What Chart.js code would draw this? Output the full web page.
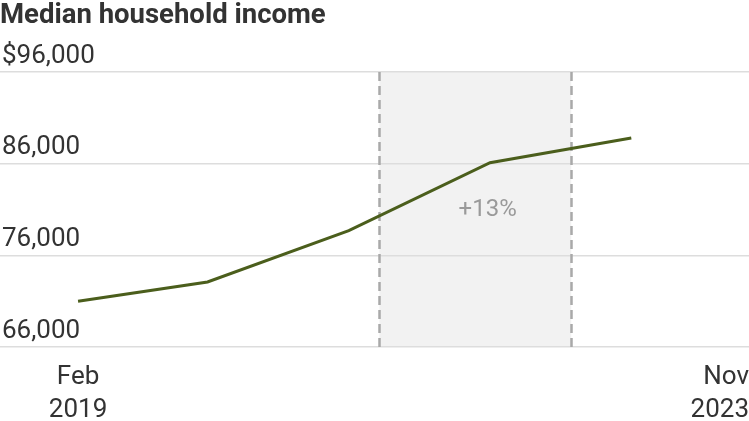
<!DOCTYPE html>
<html>
<head>
<meta charset="utf-8">
<script src="https://cdn.jsdelivr.net/npm/chart.js@4"></script>
<style>
  html, body { margin: 0; padding: 0; background: #ffffff; }
  #wrap { width: 749px; height: 421px; position: relative; }
</style>
</head>
<body>
<div id="wrap"><canvas id="c" width="749" height="421"></canvas></div>
<script>
// ---- data (months counted from Feb 2019) ----
const chartTitle = 'Median household income';
const pointMonths = [0, 11, 23, 35, 47];
const incomeValues = [71000, 73100, 78700, 86100, 88800];
const yTickValues = [66000, 76000, 86000, 96000];
const xTickMonths = [0, 57];
const xTickLabels = [['Feb', '2019'], ['Nov', '2023']];
const shadeMonths = [25.6, 41.9];
const shadeLabel = '+13%';
const shadeLabelAt = [34.8, 80900];

const FONT = 'Roboto';

const shadePlugin = {
  id: 'shade',
  beforeDraw(chart) {
    const { ctx, chartArea, scales } = chart;
    const x0 = scales.x.getPixelForValue(shadeMonths[0]);
    const x1 = scales.x.getPixelForValue(shadeMonths[1]);
    ctx.save();
    ctx.fillStyle = '#f2f2f2';
    ctx.fillRect(x0, chartArea.top, x1 - x0, chartArea.bottom - chartArea.top);
    ctx.restore();
  },
  beforeDatasetsDraw(chart) {
    const { ctx, chartArea, scales } = chart;
    ctx.save();
    ctx.strokeStyle = '#a9a9a9';
    ctx.lineWidth = 2.5;
    ctx.setLineDash([9, 5]);
    shadeMonths.forEach(m => {
      const x = Math.round(scales.x.getPixelForValue(m)) + 0.5;
      ctx.beginPath();
      ctx.moveTo(x, chartArea.top);
      ctx.lineTo(x, chartArea.bottom);
      ctx.stroke();
    });
    ctx.setLineDash([]);
    ctx.fillStyle = '#9a9a9a';
    ctx.font = '24px ' + FONT;
    ctx.textAlign = 'center';
    ctx.textBaseline = 'middle';
    ctx.fillText(shadeLabel, scales.x.getPixelForValue(shadeLabelAt[0]), scales.y.getPixelForValue(shadeLabelAt[1]));
    ctx.restore();
  }
};

new Chart(document.getElementById('c'), {
  type: 'line',
  data: {
    datasets: [{
      data: pointMonths.map((m, i) => ({ x: m, y: incomeValues[i] })),
      borderColor: '#4b5e1c',
      borderWidth: 3,
      pointRadius: 0,
      tension: 0,
      fill: false
    }]
  },
  options: {
    responsive: false,
    animation: false,
    events: [],
    layout: { padding: { left: 0, right: 0, top: 0, bottom: 0 } },
    plugins: {
      legend: { display: false },
      tooltip: { enabled: false },
      title: {
        display: true,
        text: chartTitle,
        align: 'start',
        color: '#333333',
        font: { family: FONT, size: 27.5, weight: 'bold', lineHeight: 1.2 },
        padding: { top: 0, bottom: 39 }
      }
    },
    scales: {
      x: {
        type: 'linear',
        min: -6.63,
        max: 57,
        afterBuildTicks: s => { s.ticks = [{ value: -6.63 }].concat(xTickMonths.map(v => ({ value: v }))); },
        afterFit: s => { s.height = 74; s.paddingLeft = 0; s.paddingRight = 0; },
        grid: { display: false, drawTicks: false },
        border: { display: false },
        ticks: {
          align: 'inner',
          autoSkip: false,
          maxRotation: 0,
          padding: 14,
          color: '#333333',
          font: { family: FONT, size: 26, lineHeight: 1.27 },
          callback: v => { const i = xTickMonths.indexOf(v); return i >= 0 ? xTickLabels[i] : ''; }
        }
      },
      y: {
        min: 66000,
        max: 96000,
        afterBuildTicks: s => { s.ticks = yTickValues.map(v => ({ value: v })); },
        afterFit: s => { s.width = 0; },
        grid: { color: '#dddddd', lineWidth: 1.5, drawTicks: false },
        border: { display: false },
        ticks: {
          mirror: true,
          padding: 2,
          labelOffset: -16,
          color: '#333333',
          font: { family: FONT, size: 26 },
          callback: v => (v === 96000 ? '$' : '') + v.toLocaleString('en-US')
        }
      }
    }
  },
  plugins: [shadePlugin]
});
</script>
</body>
</html>
